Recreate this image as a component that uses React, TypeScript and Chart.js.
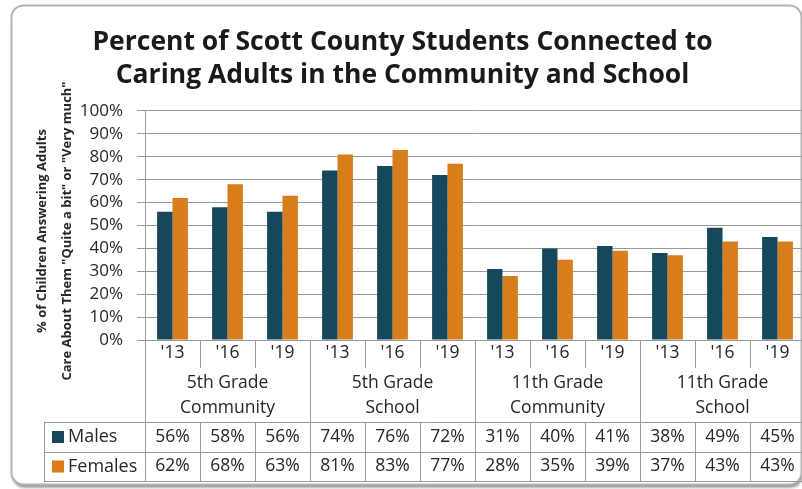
import React, { useEffect, useRef } from "react";
import { Chart, registerables } from "chart.js";

Chart.register(...registerables);

const titleLines = ["Percent of Scott County Students Connected to", "Caring Adults in the Community and School"];
const yTitleLines = ["% of Children Answering Adults", "Care About Them \"Quite a bit\" or \"Very much\""];
const years = ["'13", "'16", "'19", "'13", "'16", "'19", "'13", "'16", "'19", "'13", "'16", "'19"];
const groups = [
  ["5th Grade", "Community"],
  ["5th Grade", "School"],
  ["11th Grade", "Community"],
  ["11th Grade", "School"],
];
const seriesNames = ["Males", "Females"];
const males = [56, 58, 56, 74, 76, 72, 31, 40, 41, 38, 49, 45];
const females = [62, 68, 63, 81, 83, 77, 28, 35, 39, 37, 43, 43];
const seriesColors = ["#17475a", "#d87d1c"];

const FONT = "'Open Sans', Lato, sans-serif";
const LINE = "#999999";
const TEXT = "#262626";

const bgPlugin = {
  id: "bg",
  beforeDraw(chart: any) {
    const ctx = chart.ctx;
    ctx.save();
    ctx.fillStyle = "#ffffff";
    ctx.fillRect(0, 0, chart.width, chart.height);
    ctx.shadowColor = "rgba(0,0,0,0.45)";
    ctx.shadowBlur = 3;
    ctx.shadowOffsetY = 3;
    ctx.shadowOffsetX = 1;
    ctx.beginPath();
    (ctx as any).roundRect(11.5, 5.5, 790, 479, 12);
    ctx.fillStyle = "#ffffff";
    ctx.fill();
    ctx.shadowColor = "transparent";
    ctx.lineWidth = 2;
    ctx.strokeStyle = "#b4b4b4";
    ctx.stroke();
    ctx.restore();
  },
};

const tablePlugin = {
  id: "dataTable",
  afterDraw(chart: any) {
    const ctx = chart.ctx;
    const area = chart.chartArea;
    const x = chart.scales.x;
    const n = years.length;
    const colW = (area.right - area.left) / n;
    const yearRowBottom = area.bottom + 28;
    const tableTop = 422;
    const rowMid = 451.5;
    const tableBottom = 481;
    const tableLeft = 44;
    const px = (v: number) => Math.round(v) + 0.5;

    ctx.save();
    ctx.strokeStyle = LINE;
    ctx.lineWidth = 1;
    ctx.beginPath();
    for (let i = 0; i <= n; i++) {
      const bx = px(i === n ? area.right : x.getPixelForValue(i) - colW / 2);
      if (i % 3 === 0) {
        ctx.moveTo(bx, area.bottom);
        ctx.lineTo(bx, tableBottom);
      } else {
        ctx.moveTo(bx, area.bottom);
        ctx.lineTo(bx, yearRowBottom);
        ctx.moveTo(bx, tableTop);
        ctx.lineTo(bx, tableBottom);
      }
    }
    ctx.moveTo(px(tableLeft), tableTop);
    ctx.lineTo(px(tableLeft), tableBottom);
    [tableTop, rowMid, tableBottom].forEach((yy) => {
      ctx.moveTo(tableLeft, px(yy));
      ctx.lineTo(area.right, px(yy));
    });
    ctx.stroke();

    // group labels
    ctx.fillStyle = TEXT;
    ctx.font = `17.5px ${FONT}`;
    ctx.textAlign = "center";
    ctx.textBaseline = "middle";
    groups.forEach((g, gi) => {
      const cx = (x.getPixelForValue(gi * 3) + x.getPixelForValue(gi * 3 + 2)) / 2;
      ctx.fillText(g[0], cx, 383);
      ctx.fillText(g[1], cx, 408);
    });

    // legend column and values
    const rowsY = [437, 466.5];
    const data = [males, females];
    seriesNames.forEach((name, si) => {
      ctx.fillStyle = seriesColors[si];
      ctx.fillRect(52, rowsY[si] - 6, 12, 12);
      ctx.fillStyle = TEXT;
      ctx.textAlign = "left";
      ctx.font = `18px ${FONT}`;
      ctx.fillText(name, 68, rowsY[si]);
      ctx.textAlign = "center";
      ctx.font = `17.5px ${FONT}`;
      data[si].forEach((v, i) => {
        ctx.fillText(v + "%", x.getPixelForValue(i), rowsY[si]);
      });
    });

    // y axis title
    ctx.fillStyle = TEXT;
    ctx.font = `bold 13px ${FONT}`;
    ctx.textAlign = "center";
    ctx.textBaseline = "middle";
    ctx.translate(42, 231);
    ctx.rotate(-Math.PI / 2);
    ctx.fillText(yTitleLines[0], 0, 0);
    ctx.fillText(yTitleLines[1], 0, 25);
    ctx.restore();
  },
};

export default function App() {
  const ref = useRef<HTMLCanvasElement | null>(null);
  useEffect(() => {
    if (!ref.current) return;
    const chart = new Chart(ref.current, {
      type: "bar",
      data: {
        labels: years,
        datasets: [
          { label: seriesNames[0], data: males, backgroundColor: seriesColors[0], categoryPercentage: 0.56, barPercentage: 1 },
          { label: seriesNames[1], data: females, backgroundColor: seriesColors[1], categoryPercentage: 0.56, barPercentage: 1 },
        ],
      },
      options: {
        responsive: false,
        animation: false,
        devicePixelRatio: 1,
        layout: { padding: { left: 0, right: 17, top: 0, bottom: 0 } },
        plugins: {
          legend: { display: false },
          tooltip: { enabled: false },
          title: {
            display: true,
            text: titleLines,
            color: "#1a1a1a",
            font: { family: FONT, size: 26.5, weight: "bold", lineHeight: 1.245 },
            padding: { top: 25.5, bottom: 19.5 },
          },
        },
        scales: {
          x: {
            grid: { display: false, drawTicks: false },
            border: { display: false },
            ticks: { color: TEXT, font: { family: FONT, size: 17.5 }, padding: 3, autoSkip: false, maxRotation: 0 },
            afterFit(scale: any) {
              scale.height = 149;
            },
          },
          y: {
            min: 0,
            max: 100,
            grid: { color: LINE, tickLength: 8, lineWidth: 1 },
            border: { display: true, color: LINE },
            ticks: {
              stepSize: 10,
              autoSkip: false,
              color: TEXT,
              padding: 14,
              font: { family: FONT, size: 17 },
              callback: (v: any) => v + "%",
            },
            afterFit(scale: any) {
              scale.width = 145;
            },
          },
        },
      },
      plugins: [bgPlugin, tablePlugin],
    } as any);
    return () => chart.destroy();
  }, []);
  return (
    <div style={{ position: "absolute", left: 0, top: 0, width: 802, height: 489, overflow: "hidden", background: "#fff" }}>
      <canvas ref={ref} width={822} height={489} style={{ display: "block" }} />
    </div>
  );
}
